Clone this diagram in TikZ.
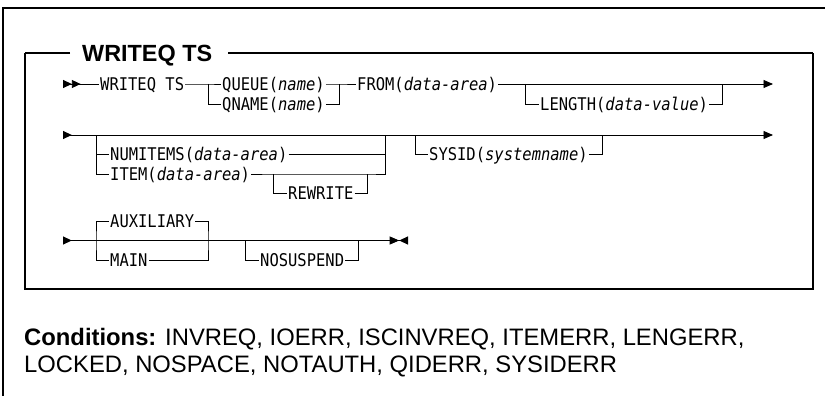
\documentclass[tikz,border=0pt]{standalone}
\usepackage{fontspec}
\setmainfont{Liberation Sans}
\newfontfamily\railfont{DejaVu Sans Mono}[FakeStretch=0.885]
\usetikzlibrary{arrows.meta}
\tikzset{
    rail/.style={line width=0.9pt},
    frame/.style={line width=1.3pt},
    titlerule/.style={line width=2pt},
    kw/.style={
        font=\railfont\fontsize{17.5}{20}\selectfont,
        inner xsep=1pt,
        inner ysep=0pt,
        text height=12.8pt,
        text depth=0pt,
        anchor=west,
    },
    heading/.style={
        font=\bfseries\fontsize{23.4}{28}\selectfont,
        inner sep=0pt,
        anchor=base west,
    },
    condtext/.style={
        font=\fontsize{23.8}{28}\selectfont,
        inner sep=0pt,
        anchor=base west,
    },
    tri/.tip={Triangle[length=9.5pt,width=8pt]},
    rtri/.tip={Triangle[reversed,length=8.8pt,width=8pt]},
}

\begin{document}
\begin{tikzpicture}[x=1pt,y=-1pt]
    \useasboundingbox (0,0) rectangle (825,396);

    % page frame, only top and left edges show
    \draw[frame] (830,8) -- (3,8) -- (3,400);

    % heading and syntax box
    \node[heading] (head) at (82,62) {WRITEQ TS};
    \draw[titlerule] (70,53) -- (25,53);
    \draw[titlerule] (228,53) -- (813,53);
    \draw[frame] (25,53) -- (25,289) -- (813,289) -- (813,53);

    % first line
    \coordinate (s1) at (63,84);
    \node[kw] (wq) at (99,84) {WRITEQ TS};
    \coordinate (q1) at (208,84);
    \node[kw] (queue) at (221,84) {QUEUE(\textit{name})};
    \node[kw] (qname) at (221,104) {QNAME(\textit{name})};
    \coordinate (q2) at (339,84);
    \node[kw] (from) at (356,84) {FROM(\textit{data-area})};
    \coordinate (l1) at (525,84);
    \node[kw] (length) at (539,104) {LENGTH(\textit{data-value})};
    \coordinate (l2) at (722,84);
    \coordinate (e1) at (773,84);

    \draw[rail, {rtri[]rtri[]}-] (s1) -- (wq);
    \draw[rail] (wq) -- (q1) -- (queue);
    \draw[rail] (queue) -- (q2) -- (from);
    \draw[rail] (q1) |- (qname);
    \draw[rail] (qname) -| (q2);
    \draw[rail, -{tri[]}] (from) -- (e1);
    \draw[rail] (l1) |- (length);
    \draw[rail] (length) -| (l2);

    % second line
    \coordinate (s2) at (63,135);
    \coordinate (n1) at (96,135);
    \node[kw] (numitems) at (109,154.5) {NUMITEMS(\textit{data-area})};
    \node[kw] (item) at (109,174) {ITEM(\textit{data-area})};
    \coordinate (w1) at (273,174);
    \node[kw] (rewrite) at (287,193.5) {REWRITE};
    \coordinate (w2) at (367,174);
    \coordinate (n2) at (385,135);
    \coordinate (y1) at (415,135);
    \node[kw] (sysid) at (428,154.5) {SYSID(\textit{systemname})};
    \coordinate (y2) at (602,135);
    \coordinate (e2) at (773,135);

    \draw[rail, {rtri[]}-{tri[]}] (s2) -- (e2);
    \draw[rail] (n1) |- (numitems);
    \draw[rail] (numitems) -| (n2);
    \draw[rail] (n1) |- (item);
    \draw[rail] (item) -- (w1) -- (w2) -| (n2);
    \draw[rail] (w1) |- (rewrite);
    \draw[rail] (rewrite) -| (w2);
    \draw[rail] (y1) |- (sysid);
    \draw[rail] (sysid) -| (y2);

    % third line
    \coordinate (s3) at (63,240.5);
    \coordinate (a1) at (96,240.5);
    \node[kw] (aux) at (109,221.5) {AUXILIARY};
    \node[kw] (mainopt) at (109,260) {MAIN};
    \coordinate (a2) at (208,240.5);
    \coordinate (u1) at (245,240.5);
    \node[kw] (nosusp) at (259,260) {NOSUSPEND};
    \coordinate (u2) at (358,240.5);
    \coordinate (e3) at (408,240.5);

    \draw[rail, {rtri[]}-{tri[]rtri[]}] (s3) -- (e3);
    \draw[rail] (aux) -| (a1) |- (mainopt);
    \draw[rail] (aux) -| (a2) |- (mainopt);
    \draw[rail] (u1) |- (nosusp);
    \draw[rail] (nosusp) -| (u2);

    % conditions
    \node[condtext] (cond1) at (24,345) {\textbf{Conditions:} INVREQ, IOERR, ISCINVREQ, ITEMERR, LENGERR,};
    \node[condtext] (cond2) at (24,372) {LOCKED, NOSPACE, NOTAUTH, QIDERR, SYSIDERR};
\end{tikzpicture}
\end{document}
